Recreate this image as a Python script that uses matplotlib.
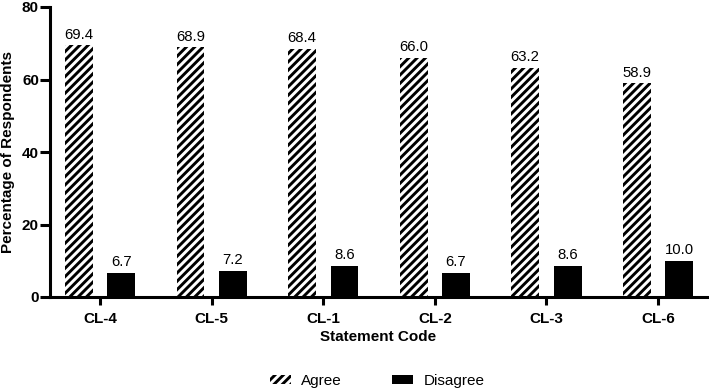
import numpy as np
import matplotlib.pyplot as plt
from matplotlib.patches import Patch

plt.rcParams['font.family'] = ['Liberation Sans', 'DejaVu Sans']
plt.rcParams['hatch.linewidth'] = 2.1

# data
codes = ['CL-4', 'CL-5', 'CL-1', 'CL-2', 'CL-3', 'CL-6']
agree = [69.4, 68.9, 68.4, 66.0, 63.2, 58.9]
disagree = [6.7, 7.2, 8.6, 6.7, 8.6, 10.0]

fig = plt.figure(figsize=(7.09, 3.91), dpi=100)
ax = fig.add_axes([50/709, 94/391, 657/709, 290/391])

x = np.arange(len(codes))
w = 0.25
off = 0.19
b1 = ax.bar(x - off, agree, w, color='white', edgecolor='black', hatch='////', linewidth=0)
b2 = ax.bar(x + off, disagree, w, color='black', linewidth=0)

for bars in (b1, b2):
    for r in bars:
        ax.text(r.get_x() + r.get_width()/2, r.get_height() + 1.0, '%.1f' % r.get_height(),
                ha='center', va='bottom', fontsize=10.7)

ax.set_xlim(-0.45, 5.44)
ax.set_ylim(0, 80)
ax.set_yticks([0, 20, 40, 60, 80])
ax.set_xticks(x)
ax.set_xticklabels(codes, fontweight='bold', fontsize=11)
for t in ax.get_yticklabels():
    t.set_fontweight('bold')
    t.set_fontsize(11)

for s in ['top', 'right']:
    ax.spines[s].set_visible(False)
for s in ['left', 'bottom']:
    ax.spines[s].set_linewidth(2.2)
ax.tick_params(axis='y', width=2.2, length=7, pad=1)
ax.tick_params(axis='x', width=2.2, length=6, pad=5)

ax.set_xlabel('Statement Code', fontweight='bold', fontsize=11, labelpad=3)
ax.set_ylabel('Percentage of Respondents', fontweight='bold', fontsize=11, labelpad=5)

handles = [Patch(facecolor='white', edgecolor='black', hatch='////', linewidth=0, label='Agree'),
           Patch(facecolor='black', linewidth=0, label='Disagree')]
fig.legend(handles=handles, loc='center', bbox_to_anchor=(377/709, 1 - 381/391), ncol=2,
           frameon=False, fontsize=11, handlelength=1.4, handleheight=0.55,
           columnspacing=3.3, handletextpad=0.65)

fig.savefig('out.png', dpi=100)
